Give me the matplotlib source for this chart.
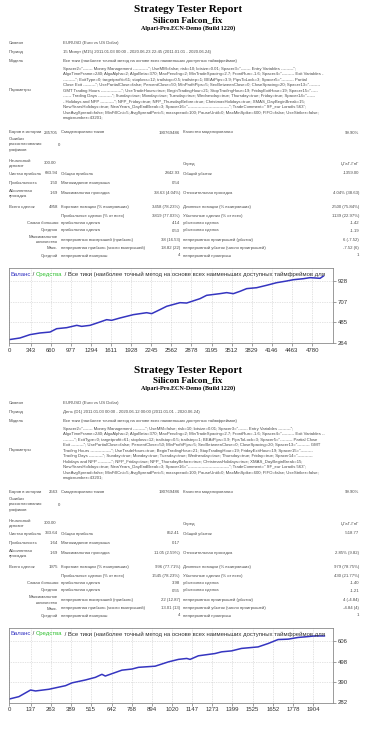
import matplotlib
matplotlib.use("Agg")
import matplotlib.pyplot as plt

# ─── data ────────────────────────────────────────────────────────────────────
params_1 = [
    'Spacer2="------- Money Management -----------"; UseMM=false; risk=10; lotsize=0.01; Spacer3="------- Entry Variables ---------";',
    'AlgoTimeFrame=240; AlgoAlpha=2; AlgoBeta=370; MaxPending=2; MinTradeSpacing=2.7; FrontRun=-1.6; Spacer4="--------- Exit Variables -',
    '---------"; ExitType=0; targetprofit=61; stoploss=12; trailstop=0.5; trailstep=1; BEAtPips=3.9; PipsToLock=3; Spacer5="--------- Partial',
    'Close Exit ---------"; UsePartialClose=false; PercentClose=50; MinProfitPips=5; SecBetweenClose=0; CloseSpacing=20; Spacer13="--------',
    'GMT Trading Hours ---------------"; UseTradeHours=true; BeginTradingHour=21; StopTradingHour=19; FridayExitHour=19; Spacer15="-----',
    '------ Trading Days ----------"; Sunday=true; Monday=true; Tuesday=true; Wednesday=true; Thursday=true; Friday=true; Spacer14="------',
    '- Holidays and NFP ----------"; NFP_Friday=true; NFP_ThursdayBefore=true; ChristmasHolidays=true; XMAS_DayBeginBreak=15;',
    'NewYearsHolidays=true; NewYears_DayEndBreak=3; Spacer16="------------------------------"; TradeComment=" SF_eur Loradis 563";',
    'UseAvgSpread=false; MinFillCnt=5; AvgSpreadPeri=5; maxspread=100; PauseUntil=0; MaxMinSpike=600; FIFO=false; UseStriker=false;',
    'magicnumber=43201;',
]
params_2 = [
    'Spacer2="------- Money Management ---------"; UseMM=false; risk=10; lotsize=0.01; Spacer3="------- Entry Variables ---------";',
    'AlgoTimeFrame=240; AlgoAlpha=2; AlgoBeta=370; MaxPending=2; MinTradeSpacing=2.7; FrontRun=-1.6; Spacer4="--------- Exit Variables --',
    '--------"; ExitType=0; targetprofit=61; stoploss=12; trailstop=0.5; trailstep=1; BEAtPips=3.9; PipsToLock=3; Spacer5="--------- Partial Close',
    'Exit ---------"; UsePartialClose=false; PercentClose=50; MinProfitPips=5; SecBetweenClose=0; CloseSpacing=20; Spacer13="--------- GMT',
    'Trading Hours ---------------"; UseTradeHours=true; BeginTradingHour=21; StopTradingHour=19; FridayExitHour=19; Spacer15="---------',
    'Trading Days ----------"; Sunday=true; Monday=true; Tuesday=true; Wednesday=true; Thursday=true; Friday=true; Spacer14="-----------',
    'Holidays and NFP ----------"; NFP_Friday=true; NFP_ThursdayBefore=true; ChristmasHolidays=true; XMAS_DayBeginBreak=15;',
    'NewYearsHolidays=true; NewYears_DayEndBreak=3; Spacer16="------------------------------"; TradeComment=" SF_eur Loradis 563";',
    'UseAvgSpread=false; MinFillCnt=5; AvgSpreadPeri=5; maxspread=100; PauseUntil=0; MaxMinSpike=600; FIFO=false; UseStriker=false;',
    'magicnumber=43201;',
]

period_1 = "15 Минут (M15) 2011.01.03 00:00 - 2020.06.23 22:45 (2011.01.01 - 2020.06.24)"
period_2 = "День (D1) 2011.01.03 00:00 - 2020.06.12 00:00 (2011.01.01 - 2020.06.24)"

stats_1 = dict(bars="235705", ticks="190769486", quality="99.90%", errors="0", deposit="300.00",
               net="683.94", gross_p="2842.93", gross_l="-1359.00", pf="1.50", payoff="0.54",
               abs_dd="1.69", max_dd="38.63 (4.04%)", rel_dd="4.04% (38.63)",
               total="4958", short="3458 (78.23%)", long="2500 (75.84%)",
               win="3819 (77.03%)", loss="1139 (22.97%)", big_w="4.14", big_l="-1.42",
               avg_w="0.53", avg_l="-1.19", cons_w="38 (16.53)", cons_l="6 (-7.52)",
               maxc_w="18.82 (22)", maxc_l="-7.52 (6)", avgc_w="4", avgc_l="1")
stats_2 = dict(bars="2563", ticks="190769486", quality="99.90%", errors="0", deposit="300.00",
               net="333.64", gross_p="852.41", gross_l="-518.77", pf="1.64", payoff="0.17",
               abs_dd="1.69", max_dd="11.05 (2.59%)", rel_dd="2.85% (9.82)",
               total="1975", short="996 (77.71%)", long="979 (78.75%)",
               win="1545 (78.23%)", loss="430 (21.77%)", big_w="3.98", big_l="-1.40",
               avg_w="0.55", avg_l="-1.21", cons_w="22 (12.87)", cons_l="4 (-4.84)",
               maxc_w="13.01 (13)", maxc_l="-4.84 (4)", avgc_w="4", avgc_l="1")

# balance curves (trade number, balance)
trades_1 = [0, 173, 331, 489, 647, 752, 910, 1069, 1146, 1278, 1435, 1540, 1619, 1750, 1961,
            2171, 2250, 2381, 2487, 2697, 2802, 3012, 3117, 3327, 3433, 3538, 3643, 3748,
            3906, 4064, 4221, 4379, 4485, 4643, 4748, 4906, 4958]
balance_1 = [300, 318, 354, 372, 382, 418, 429, 454, 443, 454, 490, 515, 508, 533, 569,
             590, 580, 623, 659, 698, 694, 741, 777, 795, 806, 795, 820, 849,
             859, 885, 913, 931, 945, 956, 967, 960, 984]
xticks_1 = [0, 343, 660, 977, 1294, 1611, 1928, 2245, 2562, 2878, 3195, 3512, 3829, 4146, 4463, 4780]
yticks_1 = [264, 485, 707, 928]

trades_2 = [0, 62, 135, 166, 250, 354, 395, 478, 541, 582, 603, 707, 770, 811, 915, 999,
            1061, 1113, 1134, 1186, 1290, 1332, 1394, 1456, 1560, 1623, 1685, 1748, 1810,
            1852, 1914, 1975]
balance_2 = [300, 313, 348, 343, 352, 371, 386, 401, 415, 431, 422, 453, 459, 468, 474, 497,
             510, 515, 510, 529, 541, 550, 555, 568, 576, 594, 615, 617, 626,
             629, 634, 634]
xticks_2 = [0, 137, 263, 389, 515, 642, 768, 894, 1020, 1147, 1273, 1399, 1525, 1652, 1778, 1904]
yticks_2 = [282, 390, 498, 606]

W, H = 376, 750
TXT = "#4a4a4a"
SMALL = 3.1

fig = plt.figure(figsize=(W / 100, H / 100), dpi=100)
fig.patch.set_facecolor("white")


def T(x, y, s, size=SMALL, ha="left", color=TXT, **kw):
    fig.text(x / W, 1 - y / H, s, fontsize=size, ha=ha, va="center", color=color,
             family=kw.pop("family", "Liberation Sans"), **kw)


def report(y0, period, params, st):
    # header
    T(188, y0 + 10, "Strategy Tester Report", size=8, ha="center", color="black",
      family="Liberation Serif", weight="bold")
    T(188, y0 + 20.5, "Silicon Falcon_fix", size=6.6, ha="center", color="black",
      family="Liberation Serif", weight="bold")
    T(188, y0 + 28.5, "Alpari-Pro.ECN-Demo (Build 1220)", size=4.4, ha="center", color="black",
      family="Liberation Serif", weight="bold")

    T(9, y0 + 43, "Символ")
    T(63, y0 + 43, "EURUSD (Euro vs US Dollar)")
    T(9, y0 + 52, "Период")
    T(63, y0 + 52, period)
    T(9, y0 + 61, "Модель")
    T(63, y0 + 61, "Все тики (наиболее точный метод на основе всех наименьших доступных таймфреймов)")
    T(9, y0 + 90, "Параметры")
    for i, line in enumerate(params):
        T(63, y0 + 69 + 5.45 * i, line)

    yb = y0 + 132.5
    T(9, yb, "Баров в истории")
    T(58, yb, st["bars"], ha="right")
    T(61, yb, "Смоделировано тиков")
    T(180, yb, st["ticks"], ha="right")
    T(183, yb, "Качество моделирования")
    T(359, yb, st["quality"], ha="right")

    T(9, y0 + 139, "Ошибки")
    T(9, y0 + 144.5, "рассогласования")
    T(9, y0 + 150, "графиков")
    T(60, y0 + 144.5, st["errors"], ha="right")

    T(9, y0 + 161, "Начальный")
    T(9, y0 + 166, "депозит")
    T(56, y0 + 163, st["deposit"], ha="right")
    T(183, y0 + 164, "Спред")
    T(359, y0 + 164, "ЏГаГ-ГпГ", ha="right")

    rows = [
        (173.5, "Чистая прибыль", st["net"], "Общая прибыль", st["gross_p"], "Общий убыток", st["gross_l"]),
        (183, "Прибыльность", st["pf"], "Матожидание выигрыша", st["payoff"], "", ""),
        (193, "", st["abs_dd"], "Максимальная просадка", st["max_dd"], "Относительная просадка", st["rel_dd"]),
        (207, "Всего сделок", st["total"], "Короткие позиции (% выигравших)", st["short"],
         "Длинные позиции (% выигравших)", st["long"]),
        (215.5, "", "", "Прибыльные сделки (% от всех)", st["win"], "Убыточные сделки (% от всех)", st["loss"]),
    ]
    for dy, lab, v0, l1, v1, l2, v2 in rows:
        y = y0 + dy
        if lab:
            T(9, y, lab)
        if v0:
            T(58, y, v0, ha="right")
        T(61, y, l1)
        T(180, y, v1, ha="right")
        if l2:
            T(183, y, l2)
            T(359, y, v2, ha="right")
    T(9, y0 + 190.5, "Абсолютная")
    T(9, y0 + 195.5, "просадка")

    rows2 = [
        (223, "Самая большая", "прибыльная сделка", st["big_w"], "убыточная сделка", st["big_l"]),
        (230.5, "Средняя", "прибыльная сделка", st["avg_w"], "убыточная сделка", st["avg_l"]),
        (240, "", "непрерывных выигрышей (прибыль)", st["cons_w"],
         "непрерывных проигрышей (убыток)", st["cons_l"]),
        (248.5, "Макс.", "непрерывная прибыль (число выигрышей)", st["maxc_w"],
         "непрерывный убыток (число проигрышей)", st["maxc_l"]),
        (255.5, "Средний", "непрерывный выигрыш", st["avgc_w"], "непрерывный проигрыш", st["avgc_l"]),
    ]
    for dy, lab, l1, v1, l2, v2 in rows2:
        y = y0 + dy
        if lab:
            T(58, y, lab, ha="right")
        T(61, y, l1)
        T(180, y, v1, ha="right")
        T(183, y, l2)
        T(359, y, v2, ha="right")
    T(58, y0 + 237.5, "Максимальное", ha="right")
    T(58, y0 + 242.5, "количество", ha="right")


def chart(top, bottom, trades, balance, xticks, yticks, xmax, ymax):
    ax = fig.add_axes([9 / W, 1 - bottom / H, (333 - 9) / W, (bottom - top) / H])
    ax.plot(trades, balance, color="#3535c0", lw=1.1)
    ax.set_xlim(0, xmax)
    ax.set_ylim(yticks[0], ymax)
    ax.set_xticks(xticks)
    ax.set_yticks(yticks)
    ax.yaxis.tick_right()
    ax.tick_params(axis="both", labelsize=4.3, length=2, width=0.5, pad=1.5,
                   colors="#777777", labelcolor="#333333")
    for lab in ax.get_xticklabels() + ax.get_yticklabels():
        lab.set_family("Liberation Sans")
    ax.grid(True, color="#c8c8c8", linestyle=(0, (1, 1.5)), linewidth=0.5)
    for sp in ax.spines.values():
        sp.set_color("#8a8a8a")
        sp.set_linewidth(0.6)

    # caption inside the chart, running up to the right border like the original
    fig.canvas.draw()
    r = fig.canvas.get_renderer()
    x = 0.006
    parts = [("Баланс", "#3030c0"), (" / ", "#333333"), ("Средства", "#30c030"),
             (" / Все тики (наиболее точный метод на основе всех наименьших доступных таймфреймов для",
              "#333333")]
    for s, c in parts:
        t = ax.text(x, 0.92, s, transform=ax.transAxes, fontsize=4.3, color=c,
                    va="center", ha="left", family="Liberation Sans")
        bb = t.get_window_extent(renderer=r).transformed(ax.transAxes.inverted())
        x = bb.x1
    return ax


report(0, period_1, params_1, stats_1)
report(360, period_2, params_2, stats_2)
chart(268, 343, trades_1, balance_1, xticks_1, yticks_1, 5110, 1071)
chart(628, 702.5, trades_2, balance_2, xticks_2, yticks_2, 2029, 676)

fig.savefig("out.png", dpi=100, facecolor="white")
